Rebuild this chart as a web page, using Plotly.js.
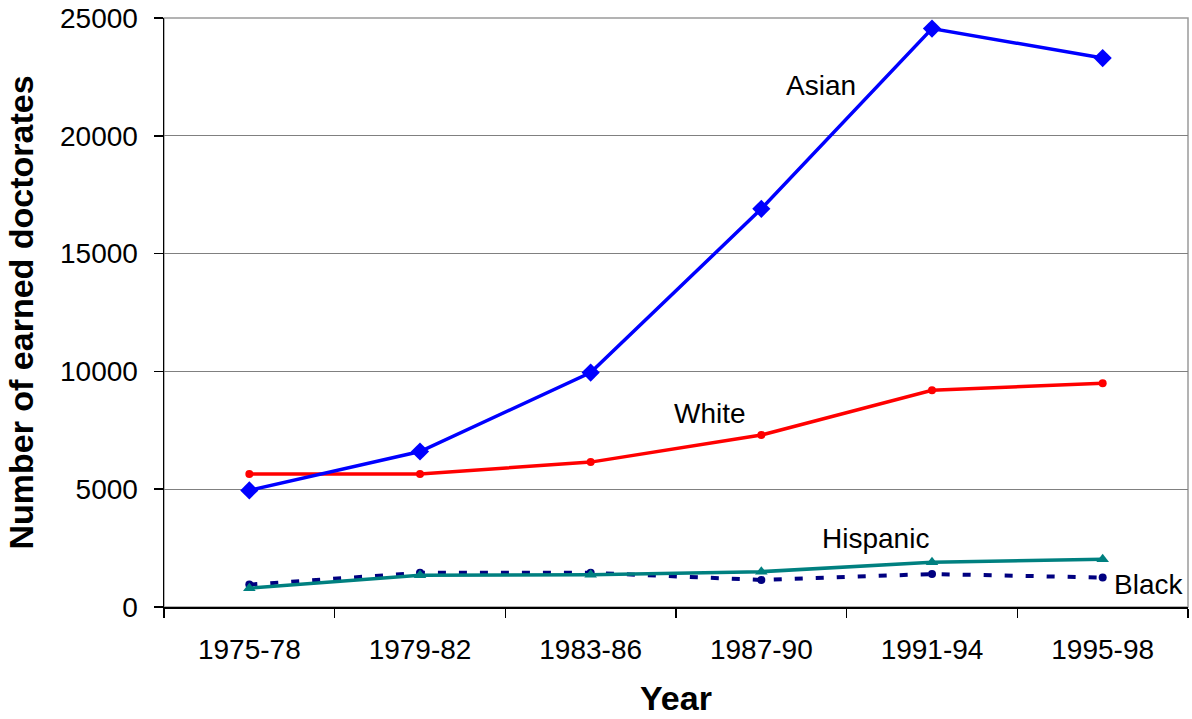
<!DOCTYPE html>
<html>
<head>
<meta charset="utf-8">
<script src="https://cdn.plot.ly/plotly-3.0.1.min.js"></script>
<style>
  html, body { margin: 0; padding: 0; background: #fff; }
  #chart { width: 1192px; height: 719px; }
</style>
</head>
<body>
<div id="chart"></div>
<script>
// Earned doctorates by group, four-year periods
const periods = ["1975-78", "1979-82", "1983-86", "1987-90", "1991-94", "1995-98"];
const asian    = [4950, 6600, 9950, 16900, 24550, 23300];
const white    = [5650, 5650, 6150, 7300, 9200, 9500];
const hispanic = [800, 1350, 1370, 1500, 1900, 2030];
const black    = [950, 1450, 1450, 1150, 1400, 1250];

const FONT = "Liberation Sans, Arial, sans-serif";

const traces = [
  {
    name: "Black", x: periods, y: black, type: "scatter", mode: "lines+markers",
    line: { color: "#000080", width: 4, dash: "8px,13px" },
    marker: { symbol: "circle", size: 8, color: "#000080" }
  },
  {
    name: "Hispanic", x: periods, y: hispanic, type: "scatter", mode: "lines+markers",
    line: { color: "#008080", width: 3.5 },
    marker: { symbol: "triangle-up", size: 11, color: "#008080" }
  },
  {
    name: "White", x: periods, y: white, type: "scatter", mode: "lines+markers",
    line: { color: "#FF0000", width: 3.5 },
    marker: { symbol: "circle", size: 8, color: "#FF0000" }
  },
  {
    name: "Asian", x: periods, y: asian, type: "scatter", mode: "lines+markers",
    line: { color: "#0000FF", width: 3.5 },
    marker: { symbol: "diamond", size: 14, color: "#0000FF" }
  }
];

// Series labels placed next to their lines
const seriesLabels = [
  { text: "Asian",    x: 3.35, y: 22150 },
  { text: "White",    x: 2.70, y: 8200 },
  { text: "Hispanic", x: 3.67, y: 2900 },
  { text: "Black",    x: 5.27, y: 950 }
];

const layout = {
  width: 1192,
  height: 719,
  margin: { l: 164, r: 4, t: 18, b: 112 },
  paper_bgcolor: "#ffffff",
  plot_bgcolor: "#ffffff",
  showlegend: false,
  font: { family: FONT, size: 28, color: "#000" },
  xaxis: {
    type: "category",
    range: [-0.5, 5.5],
    tickson: "boundaries",
    ticks: "outside",
    ticklen: 9,
    tickwidth: 1.5,
    tickcolor: "#000",
    showline: true,
    linecolor: "#000",
    linewidth: 1.5,
    showgrid: false,
    zeroline: false,
    ticklabelstandoff: 17,
    tickfont: { family: FONT, size: 28, color: "#000" },
    title: { text: "Year", font: { family: FONT, size: 34, color: "#000", weight: "bold" }, standoff: 22 }
  },
  yaxis: {
    range: [0, 25000],
    dtick: 5000,
    tickformat: "d",
    ticks: "outside",
    ticklen: 9,
    tickwidth: 1.5,
    tickcolor: "#000",
    showline: true,
    linecolor: "#000",
    linewidth: 1.5,
    showgrid: true,
    gridcolor: "#808080",
    gridwidth: 1.2,
    zeroline: false,
    ticklabelstandoff: 10,
    tickfont: { family: FONT, size: 28, color: "#000" },
    title: { text: "Number of earned doctorates", font: { family: FONT, size: 34, color: "#000", weight: "bold" }, standoff: 16 }
  },
  shapes: [
    {
      type: "rect", xref: "paper", yref: "paper", x0: 0, x1: 1, y0: 0, y1: 1,
      line: { color: "#9a9a9a", width: 1.5 }, layer: "below"
    }
  ],
  annotations: seriesLabels.map(l => ({
    text: l.text, x: l.x, y: l.y, xref: "x", yref: "y",
    showarrow: false, xanchor: "center", yanchor: "middle",
    font: { family: FONT, size: 28, color: "#000" }
  }))
};

Plotly.newPlot("chart", traces, layout, { staticPlot: true, displayModeBar: false });
</script>
</body>
</html>
